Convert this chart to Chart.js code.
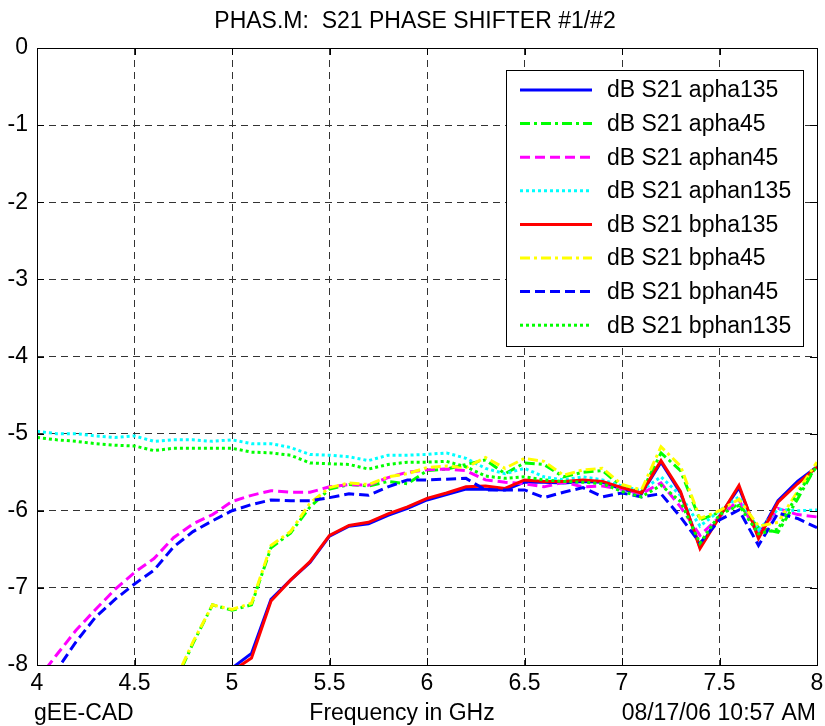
<!DOCTYPE html>
<html>
<head>
<meta charset="utf-8">
<title>PHAS.M: S21 PHASE SHIFTER #1/#2</title>
<script src="https://cdn.jsdelivr.net/npm/chart.js@4.4.0/dist/chart.umd.min.js"></script>
<style>
  body { margin: 0; background: #ffffff; }
  #graph { display: block; }
</style>
</head>
<body>
<canvas id="graph" width="825" height="726"></canvas>
<script>
  // frequency points in GHz
  var freq = [4.0,4.1,4.2,4.3,4.4,4.5,4.6,4.7,4.8,4.9,
              5.0,5.1,5.2,5.3,5.4,5.5,5.6,5.7,5.8,5.9,
              6.0,6.1,6.2,6.3,6.4,6.5,6.6,6.7,6.8,6.9,
              7.0,7.1,7.2,7.3,7.4,7.5,7.6,7.7,7.8,7.9,8.0];

  // dB S21 (null = off the bottom of the axes)
  var apha135 = [null,null,null,null,null,null,null,null,null,null,
                 -8.04,-7.85,-7.15,-6.90,-6.67,-6.33,-6.20,-6.17,-6.06,-5.97,
                 -5.86,-5.79,-5.72,-5.72,-5.73,-5.63,-5.63,-5.64,-5.62,-5.63,
                 -5.72,-5.78,-5.37,-5.77,-6.47,-6.07,-5.70,-6.33,-5.87,-5.62,-5.43];
  var apha45 = [null,null,null,null,null,null,null,-8.27,-7.72,-7.22,
                -7.29,-7.22,-6.48,-6.29,-5.95,-5.72,-5.66,-5.68,-5.62,-5.65,
                -5.48,-5.46,-5.40,-5.34,-5.52,-5.38,-5.40,-5.56,-5.50,-5.48,
                -5.69,-5.76,-5.25,-5.48,-6.12,-6.02,-5.92,-6.22,-6.28,-5.85,-5.40];
  var aphan45 = [-8.20,-7.87,-7.55,-7.28,-7.02,-6.80,-6.62,-6.35,-6.17,-6.05,
                 -5.88,-5.80,-5.74,-5.76,-5.76,-5.69,-5.66,-5.67,-5.57,-5.50,
                 -5.47,-5.46,-5.48,-5.60,-5.63,-5.65,-5.69,-5.63,-5.69,-5.68,
                 -5.72,-5.78,-5.64,-5.95,-6.32,-6.08,-5.86,-6.32,-5.97,-6.05,-6.08];
  var aphan135 = [-4.97,-5.00,-5.00,-5.03,-5.05,-5.03,-5.10,-5.08,-5.08,-5.10,
                  -5.08,-5.13,-5.13,-5.18,-5.27,-5.28,-5.30,-5.35,-5.28,-5.28,
                  -5.27,-5.25,-5.32,-5.45,-5.52,-5.45,-5.56,-5.60,-5.56,-5.60,
                  -5.68,-5.74,-5.56,-5.80,-6.20,-6.00,-5.82,-6.25,-5.98,-6.00,-5.99];
  var bpha135 = [null,null,null,null,null,null,null,null,null,null,
                 -8.08,-7.91,-7.17,-6.90,-6.66,-6.32,-6.19,-6.15,-6.04,-5.95,
                 -5.84,-5.77,-5.69,-5.68,-5.71,-5.60,-5.62,-5.62,-5.60,-5.62,
                 -5.70,-5.77,-5.35,-5.75,-6.49,-6.08,-5.67,-6.36,-5.89,-5.65,-5.43];
  var bpha45 = [null,null,null,null,null,null,null,-8.25,-7.70,-7.22,
                -7.28,-7.20,-6.45,-6.27,-5.90,-5.70,-5.64,-5.66,-5.56,-5.52,
                -5.44,-5.42,-5.44,-5.31,-5.45,-5.32,-5.36,-5.54,-5.47,-5.45,
                -5.66,-5.73,-5.17,-5.42,-6.10,-6.00,-5.85,-6.20,-6.15,-5.75,-5.37];
  var bphan45 = [-8.45,-8.07,-7.70,-7.38,-7.15,-6.95,-6.77,-6.47,-6.27,-6.13,
                 -6.00,-5.92,-5.86,-5.87,-5.87,-5.83,-5.78,-5.80,-5.69,-5.60,
                 -5.60,-5.59,-5.58,-5.73,-5.73,-5.73,-5.83,-5.76,-5.70,-5.82,
                 -5.77,-5.82,-5.78,-6.08,-6.42,-6.12,-5.99,-6.45,-6.03,-6.10,-6.22];
  var bphan135 = [-5.05,-5.08,-5.10,-5.13,-5.15,-5.16,-5.22,-5.19,-5.19,-5.19,
                  -5.19,-5.24,-5.25,-5.28,-5.38,-5.39,-5.40,-5.46,-5.40,-5.37,
                  -5.37,-5.36,-5.43,-5.55,-5.58,-5.56,-5.60,-5.62,-5.63,-5.65,
                  -5.75,-5.82,-5.67,-5.88,-6.42,-6.05,-5.93,-6.30,-6.24,-5.78,-5.42];

  var seriesNames = ['dB S21 apha135','dB S21 apha45','dB S21 aphan45','dB S21 aphan135',
                     'dB S21 bpha135','dB S21 bpha45','dB S21 bphan45','dB S21 bphan135'];
  var seriesData = [apha135, apha45, aphan45, aphan135, bpha135, bpha45, bphan45, bphan135];
  var colors = ['#0000ff','#00ff00','#ff00ff','#00ffff','#ff0000','#ffff00','#0000ff','#00ff00'];
  var dashes = [[], [10,4,3,4], [10,5], [3,3], [], [10,4,3,4], [10,5], [3,3]];

  var FAMILY = '"Liberation Sans", Arial, sans-serif';
  var FONT = '23px ' + FAMILY;

  var datasets = [];
  for (var i = 0; i < seriesData.length; i++) {
    var arr = seriesData[i];
    datasets.push({
      label: seriesNames[i],
      data: freq.map(function (f, j) { return {x: f, y: arr[j]}; }),
      borderColor: colors[i],
      borderDash: dashes[i],
      borderWidth: 3,
      pointRadius: 0,
      tension: 0,
      fill: false,
      clip: 0,
      order: seriesData.length - i
    });
  }

  // matlab style frame, inward ticks, texts and legend box
  var matlabPlugin = {
    id: 'matlab',
    afterDraw: function (chart) {
      var ctx = chart.ctx;
      var a = chart.chartArea;
      var xs = chart.scales.x, ys = chart.scales.y;
      ctx.save();
      ctx.setLineDash([]);
      ctx.strokeStyle = '#000';
      ctx.lineWidth = 1;
      ctx.strokeRect(Math.round(a.left) + 0.5, Math.round(a.top) + 0.5,
                     Math.round(a.right - a.left), Math.round(a.bottom - a.top));
      var tl = 7;
      ctx.beginPath();
      xs.ticks.forEach(function (t) {
        var px = Math.round(xs.getPixelForValue(t.value)) + 0.5;
        ctx.moveTo(px, a.bottom); ctx.lineTo(px, a.bottom - tl);
        ctx.moveTo(px, a.top); ctx.lineTo(px, a.top + tl);
      });
      ys.ticks.forEach(function (t) {
        var py = Math.round(ys.getPixelForValue(t.value)) + 0.5;
        ctx.moveTo(a.left, py); ctx.lineTo(a.left + tl, py);
        ctx.moveTo(a.right, py); ctx.lineTo(a.right - tl, py);
      });
      ctx.stroke();

      ctx.fillStyle = '#000';
      ctx.font = FONT;
      ctx.textBaseline = 'middle';
      ctx.textAlign = 'center';
      ctx.fillText('PHAS.M:  S21 PHASE SHIFTER #1/#2', 415, 22);
      ctx.fillText('Frequency in GHz', 402, 714);
      ctx.textAlign = 'left';
      ctx.fillText('gEE-CAD', 34, 714);
      ctx.textAlign = 'right';
      ctx.fillText('08/17/06 10:57 AM', 816, 714);

      // legend
      var bx = 506.5, by = 70.5, bw = 297, bh = 276;
      ctx.fillStyle = '#fff';
      ctx.fillRect(bx, by, bw, bh);
      ctx.strokeStyle = '#000';
      ctx.lineWidth = 1;
      ctx.strokeRect(bx, by, bw, bh);
      chart.data.datasets.forEach(function (ds, k) {
        var ry = 90 + k * 33.6;
        ctx.setLineDash(ds.borderDash);
        ctx.strokeStyle = ds.borderColor;
        ctx.lineWidth = 3;
        ctx.beginPath();
        ctx.moveTo(520, ry); ctx.lineTo(592, ry);
        ctx.stroke();
        ctx.setLineDash([]);
        ctx.fillStyle = '#000';
        ctx.textAlign = 'left';
        ctx.fillText(ds.label, 607, ry + 1);
      });
      ctx.restore();
    }
  };

  function plainNumber(v) { return String(Math.round(v * 10) / 10); }

  var chart = new Chart(document.getElementById('graph').getContext('2d'), {
    type: 'line',
    data: { datasets: datasets },
    options: {
      responsive: false,
      devicePixelRatio: 1,
      animation: false,
      layout: { padding: { top: 48, right: 8, left: 0, bottom: 0 } },
      plugins: { legend: { display: false }, tooltip: { enabled: false }, title: { display: false } },
      scales: {
        x: {
          type: 'linear', min: 4, max: 8,
          ticks: { stepSize: 0.5, color: '#000', font: { family: FAMILY, size: 23 }, padding: 5, maxRotation: 0, callback: plainNumber },
          grid: { color: '#333', lineWidth: 1, drawTicks: false },
          border: { display: false, dash: [7, 5] },
          afterFit: function (s) { s.height = 61; s.paddingLeft = 0; s.paddingRight = 0; }
        },
        y: {
          type: 'linear', min: -8, max: 0,
          ticks: { stepSize: 1, color: '#000', font: { family: FAMILY, size: 23 }, padding: 9, callback: plainNumber },
          grid: { color: '#333', lineWidth: 1, drawTicks: false },
          border: { display: false, dash: [7, 5] },
          afterFit: function (s) { s.width = 37; s.paddingTop = 0; s.paddingBottom = 0; }
        }
      }
    },
    plugins: [matlabPlugin]
  });
</script>
</body>
</html>
